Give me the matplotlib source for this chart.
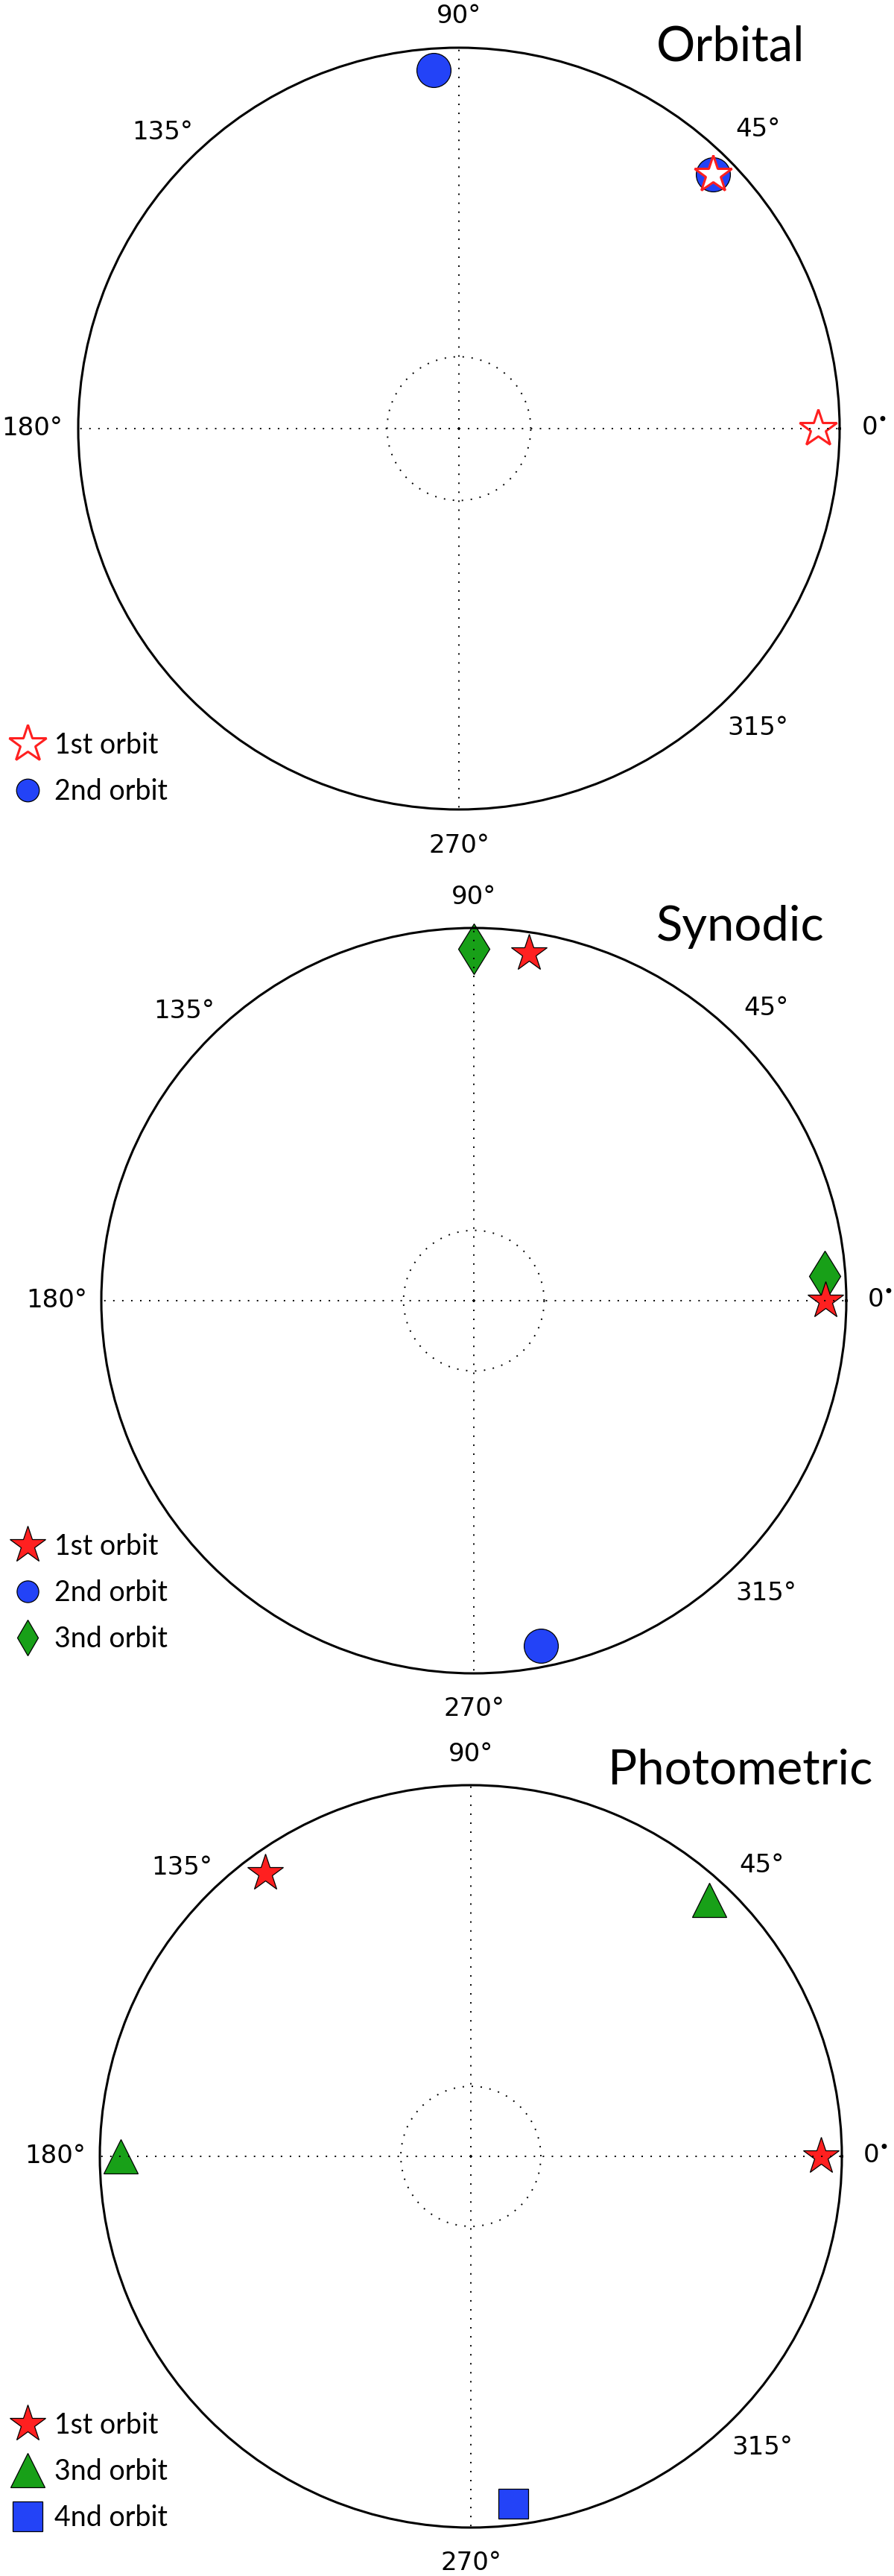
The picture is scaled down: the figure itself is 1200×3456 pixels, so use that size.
import numpy as np
import matplotlib
matplotlib.use('Agg')
import matplotlib.pyplot as plt
from matplotlib.lines import Line2D

# ---------------- data ----------------
tick_angles = [0, 45, 90, 135, 180, 270, 315]
tick_labels = ['0$^{\u2022}$', '45°', '90°', '135°', '180°', '270°', '315°']
panel_titles = ['Orbital', 'Synodic', 'Photometric']

# phase angles (degrees) of each orbit, at unit radius
orbital_1st = [0, 45]
orbital_2nd = [94, 45]

synodic_1st = [81, 0]
synodic_2nd = [281]
synodic_3nd = [90, 4]

photometric_1st = [126, 0]
photometric_3nd = [47, 180]
photometric_4nd = [277]

series_labels = ['1st orbit', '2nd orbit', '3nd orbit', '4nd orbit']

# ---------------- styling ----------------
W, H, DPI = 1200, 3456, 100
RED = '#FF2020'
BLUE = '#2343F7'
GREEN = '#18A018'
RMAX = 1.06
TICK_FS = 24.5
TITLE_FS = 47
LEG_FS = 27
TEXT_FONT = ['Lato', 'DejaVu Sans']

label_r = {0: 1.09, 45: 1.11, 90: 1.083, 135: 1.10, 180: 1.12, 270: 1.095, 315: 1.11}

styles = {
    'open_star': dict(marker='*', ms=38, mfc='white', mec=RED, mew=2.2),
    'star': dict(marker='*', ms=37, mfc=RED, mec='black', mew=0.9),
    'circle': dict(marker='o', ms=33, mfc=BLUE, mec='black', mew=0.9),
    'diamond': dict(marker='d', ms=35, mfc=GREEN, mec='black', mew=0.9),
    'triangle': dict(marker='^', ms=33, mfc=GREEN, mec='black', mew=0.9),
    'square': dict(marker='s', ms=29, mfc=BLUE, mec='black', mew=0.9),
}

fig = plt.figure(figsize=(W / DPI, H / DPI), dpi=DPI)
fig.patch.set_facecolor('white')


def make_axes(cx, cy, R):
    ax = fig.add_axes([(cx - R) / W, 1 - (cy + R) / H, 2 * R / W, 2 * R / H],
                      projection='polar')
    ax.set_ylim(0, RMAX)
    ax.set_xticks(np.deg2rad([0, 90, 180, 270]))
    ax.set_xticklabels([])
    ax.set_yticks([0.2])
    ax.set_yticklabels([])
    ax.tick_params(length=0)
    ax.grid(True, color='black', linestyle=(0, (1, 5.2)), linewidth=1.4)
    ax.set_axisbelow(False)
    ax.spines['polar'].set_linewidth(2.2)
    for a, lbl in zip(tick_angles, tick_labels):
        ax.text(np.deg2rad(a), label_r[a] * RMAX, lbl, ha='center', va='center',
                fontsize=TICK_FS, family='DejaVu Sans', clip_on=False)
    return ax


def plot_series(ax, angles, style):
    ax.plot(np.deg2rad(angles), np.ones(len(angles)), linestyle='none',
            **styles[style], clip_on=False)


def legend_handle(style, ms):
    st = dict(styles[style])
    st['ms'] = ms
    return Line2D([], [], linestyle='none', **st)


def add_title(text, x, ybase):
    fig.text(x / W, 1 - ybase / H, text, ha='left', va='baseline',
             fontsize=TITLE_FS, family=TEXT_FONT)


def add_legend(ax, handles, labels, ymid):
    ax.legend(handles, labels, loc='center left', bbox_to_anchor=(0.0, 1 - ymid / H),
              bbox_transform=fig.transFigure, frameon=False, borderpad=0,
              borderaxespad=0, handlelength=1.95, handletextpad=0.0,
              labelspacing=0.7, prop={'family': TEXT_FONT, 'size': LEG_FS})


# ---------------- panel 1: Orbital ----------------
ax1 = make_axes(616, 575, 511)
plot_series(ax1, orbital_2nd, 'circle')
plot_series(ax1, orbital_1st, 'open_star')
add_title(panel_titles[0], 881, 81)
add_legend(ax1, [legend_handle('open_star', 38), legend_handle('circle', 22)],
           series_labels[:2], 1031)

# ---------------- panel 2: Synodic ----------------
ax2 = make_axes(636, 1745, 500)
plot_series(ax2, synodic_3nd, 'diamond')
plot_series(ax2, synodic_2nd, 'circle')
plot_series(ax2, synodic_1st, 'star')
add_title(panel_titles[1], 881, 1262)
add_legend(ax2, [legend_handle('star', 37), legend_handle('circle', 21),
                 legend_handle('diamond', 24)],
           series_labels[:3], 2137)

# ---------------- panel 3: Photometric ----------------
ax3 = make_axes(632, 2893, 498)
plot_series(ax3, photometric_3nd, 'triangle')
plot_series(ax3, photometric_4nd, 'square')
plot_series(ax3, photometric_1st, 'star')
add_title(panel_titles[2], 816, 2394)
add_legend(ax3, [legend_handle('star', 37), legend_handle('triangle', 33),
                 legend_handle('square', 29)],
           [series_labels[0], series_labels[2], series_labels[3]], 3316)

fig.savefig('out.png', dpi=DPI, facecolor='white')
